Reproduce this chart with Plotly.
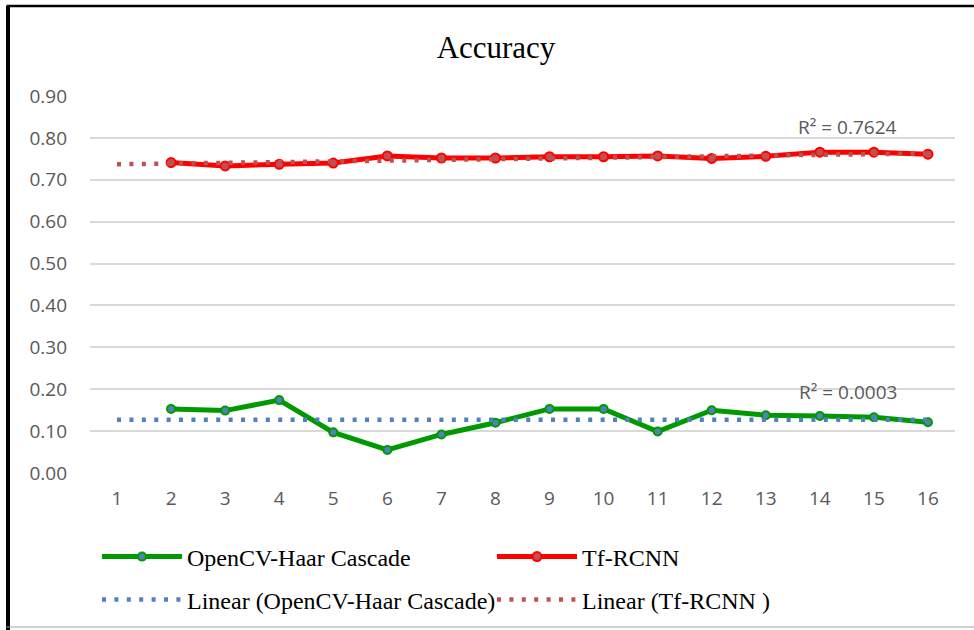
import plotly.graph_objects as go

# ---- data ----
categories = list(range(1, 17))
haar_values = [None, 0.153, 0.149, 0.174, 0.097, 0.055, 0.092, 0.120,
               0.153, 0.153, 0.099, 0.150, 0.138, 0.136, 0.133, 0.121]
rcnn_values = [None, 0.741, 0.733, 0.737, 0.740, 0.757, 0.752, 0.752,
               0.755, 0.755, 0.757, 0.751, 0.756, 0.766, 0.766, 0.761]
trend_x = [1, 16]
haar_trend = [0.127, 0.127]
rcnn_trend = [0.737, 0.763]
r2_labels = ["R² = 0.7624", "R² = 0.0003"]
y_ticks = [0.0, 0.1, 0.2, 0.3, 0.4, 0.5, 0.6, 0.7, 0.8, 0.9]
series_names = ["OpenCV-Haar Cascade", "Tf-RCNN",
                "Linear (OpenCV-Haar Cascade)", "Linear (Tf-RCNN )"]

GREEN = "#009A00"
RED = "#FF0000"
BLUE = "#4F81BD"
BROWN = "#C0504D"
TICK = "#595959"

fig = go.Figure()
fig.add_trace(go.Scatter(
    x=categories, y=haar_values, name=series_names[0], mode="lines+markers",
    line=dict(color=GREEN, width=5),
    marker=dict(size=8, color=BLUE, line=dict(color=GREEN, width=2)),
    legend="legend"))
fig.add_trace(go.Scatter(
    x=categories, y=rcnn_values, name=series_names[1], mode="lines+markers",
    line=dict(color=RED, width=5),
    marker=dict(size=9, color=BROWN, line=dict(color=RED, width=2)),
    legend="legend2"))
fig.add_trace(go.Scatter(
    x=trend_x, y=haar_trend, name=series_names[2], mode="lines",
    line=dict(color=BLUE, width=4.5, dash="4px,8.4px"),
    legend="legend3"))
fig.add_trace(go.Scatter(
    x=trend_x, y=rcnn_trend, name=series_names[3], mode="lines",
    line=dict(color=BROWN, width=4.5, dash="4px,8.4px"),
    legend="legend4"))

fig.add_annotation(x=14.52, y=0.826, text=r2_labels[0], showarrow=False,
                   font=dict(family="Open Sans", size=19, color=TICK))
fig.add_annotation(x=14.52, y=0.193, text=r2_labels[1], showarrow=False,
                   font=dict(family="Open Sans", size=19, color=TICK))

# frame around the picture
fig.add_shape(type="line", xref="paper", yref="paper",
              x0=-0.0948, x1=-0.0948, y0=1.2387, y1=-0.42,
              line=dict(color="black", width=4))
fig.add_shape(type="line", xref="paper", yref="paper",
              x0=-0.0965, x1=1.0405, y0=1.2387, y1=1.2387,
              line=dict(color="black", width=2.5))
fig.add_shape(type="line", xref="paper", yref="paper",
              x0=-0.0965, x1=1.0405, y0=-0.4085, y1=-0.4085,
              line=dict(color="#A0A0A0", width=1))

legend_font = dict(family="Liberation Serif", size=24, color="black")
def leg(xp, yp):
    return dict(x=(xp - 90) / 865, y=(473 - yp) / 377, xanchor="left",
                yanchor="middle", font=legend_font, bgcolor="rgba(0,0,0,0)",
                itemwidth=80)

fig.update_layout(
    width=974, height=630,
    margin=dict(l=90, r=19, t=96, b=157, autoexpand=False),
    paper_bgcolor="white", plot_bgcolor="white",
    title=dict(text="Accuracy", x=(496 - 90) / 865, xref="paper",
               xanchor="center", y=(630 - 47) / 630, yanchor="middle",
               font=dict(family="Liberation Serif", size=31, color="black")),
    xaxis=dict(range=[0.5, 16.5], tickmode="array", tickvals=categories,
               ticktext=[str(c) for c in categories], showgrid=False,
               zeroline=False, showline=False, ticks="",
               tickfont=dict(family="Open Sans", size=19, color=TICK),
               ticklabelstandoff=12),
    yaxis=dict(range=[0, 0.9], tickmode="array", tickvals=y_ticks,
               ticktext=[f"{v:.2f}" for v in y_ticks], showgrid=True,
               gridcolor="#D9D9D9", gridwidth=1.5, zeroline=False,
               showline=False, ticks="",
               tickfont=dict(family="Open Sans", size=19, color=TICK),
               ticklabelstandoff=22),
    showlegend=True,
    legend=leg(97, 557),
    legend2=leg(492, 557),
    legend3=leg(97, 600),
    legend4=leg(492, 600),
)

fig.write_html("out.html", config={"displayModeBar": False},
               post_script="document.body.style.margin='0px';")
